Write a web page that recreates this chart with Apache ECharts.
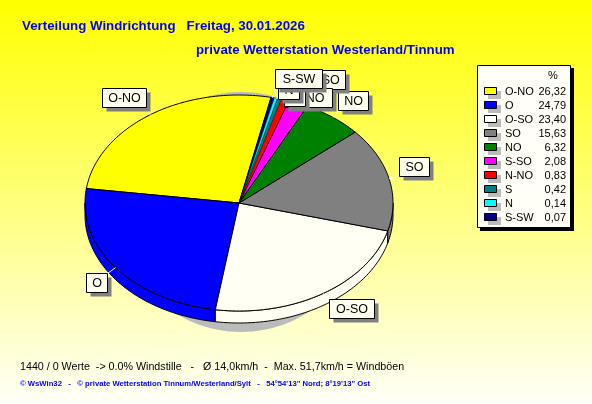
<!DOCTYPE html>
<html><head><meta charset="utf-8">
<style>html,body{margin:0;padding:0;background:#fff}#c{width:592px;height:404px}</style>
<script src="https://cdn.jsdelivr.net/npm/echarts@6/dist/echarts.min.js"></script>
</head><body><div id="c"></div>
<script>
// ---- data ----
const directions = ['O-NO','O','O-SO','SO','NO','S-SO','N-NO','S','N','S-SW'];
const percents = [26.32,24.79,23.40,15.63,6.32,2.08,0.83,0.42,0.14,0.07];
const percentLabels = ['26,32','24,79','23,40','15,63','6,32','2,08','0,83','0,42','0,14','0,07'];
const sliceColors = ['#FFFF00','#0000FF','#FFFFF4','#808080','#008000','#FF00FF','#FF0000','#008080','#00FFFF','#000080'];
const swatchColors = ['#FFFF00','#0000FF','#FFFFFF','#808080','#008000','#FF00FF','#FF0000','#008080','#00FFFF','#000080'];
// label box centre, relative to the slice's rim point
const labelOffsetX = [-26,-19,28,25,20,26,23,15,13,26];
const labelOffsetY = [-17,15,15,-12,-17,-24,-2,-2,-9,-19];
const labelWidths = [44,21,45,30,30,42,48,21,21,47];

// ---- geometry ----
const cx = 239, cy = 203, rx = 154, ry = 108, depth = 12, startDeg = 78, minAngle = 1.2;
const total = percents.reduce((a,b)=>a+b,0);
// like a pie's minAngle: very thin slices keep a visible width, the others give way
const rawAngles = percents.map(p=>p/total*360);
const fixedSum = rawAngles.filter(a=>a<minAngle).length*minAngle;
const freeSum = rawAngles.filter(a=>a>=minAngle).reduce((a,b)=>a+b,0);
let acc = startDeg;
const sliceRows = percents.map((p,i)=>{
  const span = rawAngles[i]<minAngle ? minAngle : rawAngles[i]*(360-fixedSum)/freeSum;
  const s=acc; acc+=span; return [p,s,acc,i];
});
const rim = (deg,dy=0)=>[cx+rx*Math.cos(deg*Math.PI/180), cy+dy-ry*Math.sin(deg*Math.PI/180)];
function arc(a,b,dy){const n=Math.max(2,Math.ceil(Math.abs(b-a)));const o=[];for(let i=0;i<=n;i++)o.push(rim(a+(b-a)*i/n,dy));return o;}

function renderSlice(params,api){
  const a=api.value(1), b=api.value(2), color=sliceColors[api.value(3)];
  const lw=(b-a)<4?0.4:1;
  const children=[];
  // side wall: part of the slice in the lower half of the ellipse
  [[180,360],[540,720]].forEach(([lo,hi])=>{
    const s=Math.max(a,lo), e=Math.min(b,hi);
    if(e>s){
      const pts=arc(s,e,0).concat(arc(e,s,depth));
      children.push({type:'polygon',shape:{points:pts},style:{fill:color,stroke:'#000',lineWidth:lw}});
    }
  });
  children.push({type:'polygon',shape:{points:[[cx,cy]].concat(arc(a,b,0))},style:{fill:color,stroke:'#000',lineWidth:lw}});
  return {type:'group',children};
}
function renderShadow(){
  return {type:'ellipse',shape:{cx:241,cy:212,rx:122,ry:120},style:{fill:'#BBBBBB'}};
}
function renderLabel(params,api){
  const i=api.value(3), mid=(api.value(1)+api.value(2))/2;
  const [px,py]=rim(mid);
  const w=labelWidths[i], h=19;
  const bx=Math.round(px+labelOffsetX[i]-w/2)+.5, by=Math.round(py+labelOffsetY[i]-h/2)+.5;
  const nx=Math.min(Math.max(px,bx),bx+w), ny=Math.min(Math.max(py,by),by+h);
  return {type:'group',children:[
    {type:'line',shape:{x1:px,y1:py,x2:nx,y2:ny},style:{stroke:'#FFFFFF',lineWidth:1}},
    {type:'rect',shape:{x:bx+4,y:by+4,width:w,height:h},style:{fill:'#808080'}},
    {type:'rect',shape:{x:bx,y:by,width:w,height:h},style:{fill:'#FFFFF0',stroke:'#000',lineWidth:1}},
    {type:'text',style:{x:bx+w/2,y:by+h/2+.5,text:directions[i],align:'center',verticalAlign:'middle',fill:'#000',font:'12.5px "Liberation Sans"'}}
  ]};
}
function renderLegendRow(params,api){
  const i=api.value(3), y=91+i*14;
  return {type:'group',children:[
    {type:'rect',shape:{x:488,y:y+0,width:13,height:8},style:{fill:'#BBBBBB'}},
    {type:'rect',shape:{x:484.5,y:y-3.5,width:12,height:7},style:{fill:swatchColors[i],stroke:'#000',lineWidth:1}},
    {type:'text',style:{x:505,y:y+1,text:directions[i],align:'left',verticalAlign:'middle',fill:'#000',font:'11px "Liberation Sans"'}},
    {type:'text',style:{x:566,y:y+1,text:percentLabels[i],align:'right',verticalAlign:'middle',fill:'#000',font:'11px "Liberation Sans"'}}
  ]};
}
function renderLegendBox(){
  return {type:'group',children:[
    {type:'rect',shape:{x:480,y:68,width:94,height:163},style:{fill:'#000'}},
    {type:'rect',shape:{x:477.5,y:65.5,width:93,height:162},style:{fill:'#FFFFF8',stroke:'#000',lineWidth:1}},
    {type:'text',style:{x:553,y:76,text:'%',align:'center',verticalAlign:'middle',fill:'#000',font:'11px "Liberation Sans"'}}
  ]};
}
const base={type:'custom',coordinateSystem:'none',silent:true,animation:false,clip:false};
const blue='#0000FF';
const chart=echarts.init(document.getElementById('c'),null,{renderer:'canvas'});
chart.setOption({
  animation:false,
  backgroundColor:{type:'linear',x:0,y:0,x2:0,y2:1,colorStops:[{offset:0,color:'#FFFF00'},{offset:1,color:'#FFFFF8'}]},
  title:[
    {text:'Verteilung Windrichtung   Freitag, 30.01.2026',left:22,top:19,padding:0,textStyle:{color:blue,fontFamily:'Liberation Sans',fontWeight:'bold',fontSize:13.3,lineHeight:14}},
    {text:'private Wetterstation Westerland/Tinnum',left:196,top:43,padding:0,textStyle:{color:blue,fontFamily:'Liberation Sans',fontWeight:'bold',fontSize:13.3,lineHeight:14}},
    {text:'1440 / 0 Werte  -> 0.0% Windstille   -   Ø 14,0km/h  -  Max. 51,7km/h = Windböen',left:20,top:360,padding:0,textStyle:{color:'#000',fontFamily:'Liberation Sans',fontWeight:'normal',fontSize:10.7,lineHeight:14}},
    {text:'© WsWin32   -   © private Wetterstation Tinnum/Westerland/Sylt   -   54°54\'13" Nord; 8°19\'13" Ost',left:20,top:379,padding:0,textStyle:{color:blue,fontFamily:'Liberation Sans',fontWeight:'bold',fontSize:7.7,lineHeight:10}}
  ],
  series:[
    Object.assign({},base,{name:'shadow',z:1,data:[[0]],renderItem:renderShadow}),
    Object.assign({},base,{name:'Windrichtung',z:2,data:sliceRows,renderItem:renderSlice}),
    Object.assign({},base,{name:'labels',z:3,data:sliceRows,renderItem:renderLabel}),
    Object.assign({},base,{name:'legendBox',z:4,data:[[0]],renderItem:renderLegendBox}),
    Object.assign({},base,{name:'legendRows',z:5,data:sliceRows,renderItem:renderLegendRow})
  ]
});
</script></body></html>
